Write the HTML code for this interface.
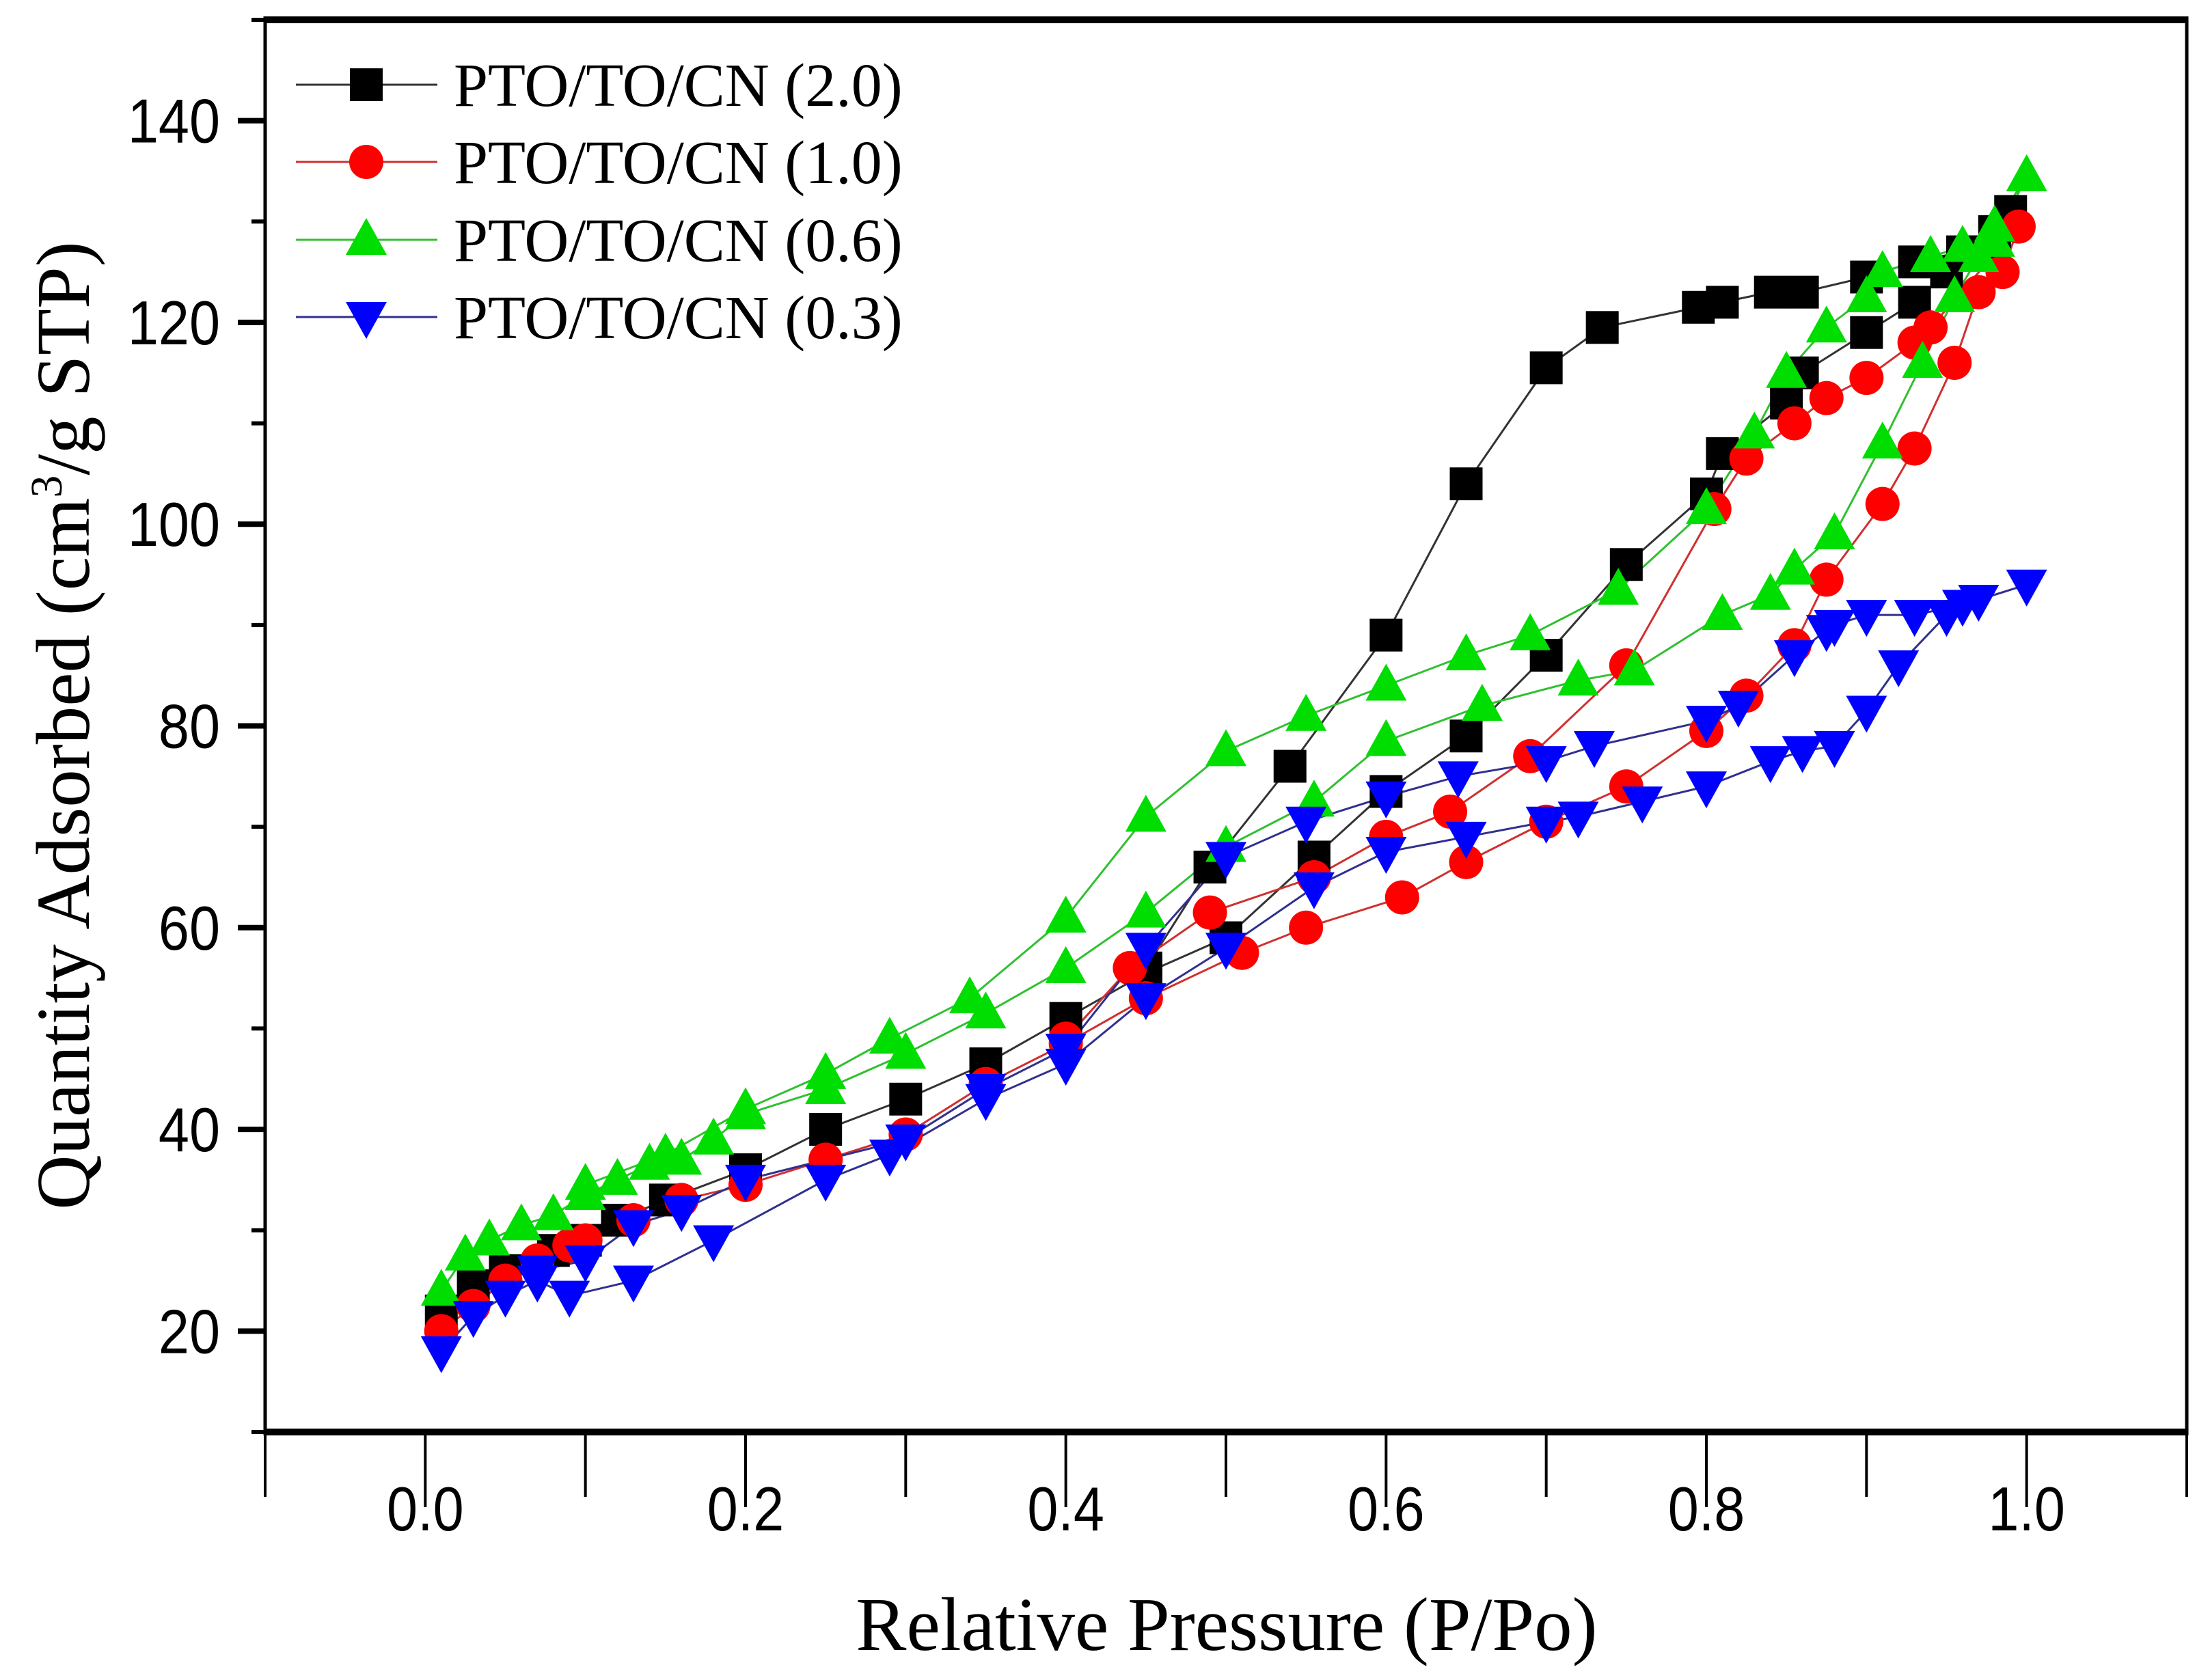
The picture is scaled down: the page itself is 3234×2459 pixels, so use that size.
<!DOCTYPE html>
<html><head><meta charset="utf-8"><style>
html,body{margin:0;padding:0;background:#fff;}
svg{display:block;}
</style></head><body>
<svg id="chart" width="3234" height="2459" viewBox="0 0 3234 2459" xmlns="http://www.w3.org/2000/svg">
<g id="plot"></g>
</svg>
<script>
const xTicks=[0.0,0.2,0.4,0.6,0.8,1.0];
const xTickLabels=["0.0","0.2","0.4","0.6","0.8","1.0"];
const yTicks=[20,40,60,80,100,120,140];
const yTickLabels=["20","40","60","80","100","120","140"];
const seriesNames=["PTO/TO/CN (2.0)","PTO/TO/CN (1.0)","PTO/TO/CN (0.6)","PTO/TO/CN (0.3)"];
const s20x=[0.01,0.03,0.05,0.08,0.1,0.12,0.15,0.2,0.25,0.3,0.35,0.4,0.45,0.5,0.555,0.6,0.65,0.7,0.75,0.8,0.81,0.85,0.86,0.9,0.93,0.95,0.97,0.99,0.98,0.96,0.93,0.9,0.86,0.84,0.81,0.795,0.735,0.7,0.65,0.6,0.54,0.49,0.45];
const s20y=[22,24.5,26,28,29,31,33,36,40,43,46.5,51,55.5,59,67,73.5,79,87,96,103,107,112,115,119,122,125,127,131,129,127,126,124.5,123,123,122,121.5,119.5,115.5,104,89,76,66,56];
const s10x=[0.01,0.03,0.05,0.07,0.09,0.1,0.13,0.16,0.2,0.25,0.3,0.35,0.4,0.45,0.51,0.55,0.61,0.65,0.7,0.75,0.8,0.825,0.855,0.875,0.91,0.93,0.955,0.97,0.985,0.995,0.94,0.93,0.9,0.875,0.855,0.825,0.805,0.75,0.69,0.64,0.6,0.555,0.49,0.44,0.4];
const s10y=[20,22.5,25,27,28.5,29,31,33,34.5,37,39.5,44.5,48.5,53,57.5,60,63,66.5,70.5,74,79.5,83,88,94.5,102,107.5,116,123,125,129.5,119.5,118,114.5,112.5,110,106.5,101.5,86,77,71.5,69,65,61.5,56,49];
const s06x=[0.01,0.025,0.04,0.06,0.08,0.1,0.12,0.14,0.16,0.18,0.2,0.25,0.3,0.35,0.4,0.45,0.5,0.555,0.6,0.66,0.72,0.755,0.81,0.84,0.855,0.88,0.91,0.935,0.955,0.97,0.98,1.0,0.98,0.96,0.94,0.91,0.9,0.875,0.85,0.83,0.8,0.745,0.69,0.65,0.6,0.55,0.5,0.45,0.4,0.34,0.29,0.25,0.2,0.15,0.1];
const s06y=[24,27.5,29,30.5,31.5,33.5,35,36.5,37,39,41.5,44,47.5,51.5,56,61.5,68,72.5,78.5,82,84.5,85.5,91,93,95.5,99,108,116,122.5,126.5,128,134.5,129.5,127.5,126.5,125,122.5,119.5,115,109,101.5,93.5,89,87,84,81,77.5,71,61,53,49,45.5,42,37.5,34.5];
const s03x=[0.01,0.03,0.05,0.07,0.09,0.13,0.18,0.25,0.29,0.35,0.4,0.45,0.5,0.555,0.6,0.65,0.7,0.72,0.76,0.8,0.84,0.86,0.88,0.9,0.92,0.95,0.97,1.0,0.96,0.93,0.9,0.88,0.875,0.855,0.82,0.8,0.73,0.7,0.645,0.6,0.55,0.5,0.45,0.4,0.35,0.3,0.2,0.16,0.13,0.1,0.07];
const s03y=[18,21.5,23.5,25,23.5,25,29,35,37.5,43,46.5,53,58,64,67.5,69,70.5,71,72.5,74,76.5,77.5,78,81.5,86,91,92.5,94,92,91,91,90,89.5,87,82,80.5,78,76.5,75,73,70.5,67,58,48,44,39,35,32,30.5,27,26];

const L=388,R=3200,T=29,B=2096;
const X0=-0.1,X1=1.1,Y0=10,Y1=150;
const sx=v=>L+(v-X0)/(X1-X0)*(R-L);
const sy=v=>B-(v-Y0)/(Y1-Y0)*(B-T);
const NS="http://www.w3.org/2000/svg";
const svg=document.getElementById('chart');
function mk(tag,attrs,parent){const e=document.createElementNS(NS,tag);for(const k in attrs)e.setAttribute(k,attrs[k]);(parent||svg).appendChild(e);return e;}

let e;
e=mk('line',{x1:L,y1:T,x2:R,y2:T,stroke:'#000','stroke-width':10});


e=mk('line',{x1:L,y1:B,x2:R,y2:B,stroke:'#000','stroke-width':10});


e=mk('line',{x1:L,y1:T-5,x2:L,y2:B+5,stroke:'#000','stroke-width':5});


e=mk('line',{x1:R,y1:T-5,x2:R,y2:B+5,stroke:'#000','stroke-width':5});



for(let i=-1;i<=11;i++){const v=i/10;const major=(i%2===0);
 e=mk('line',{x1:sx(v),y1:B,x2:sx(v),y2:B+(major?110:95),stroke:'#000','stroke-width':4});
 
 }
xTicks.forEach((v,i)=>{e=mk('text',{x:0,y:0,transform:`translate(${sx(v)},2240) scale(1,1.12)`,'font-family':'Liberation Sans, sans-serif','font-size':81,'text-anchor':'middle'});e.textContent=xTickLabels[i];
 
 });
for(let v=10;v<=150;v+=10){const major=(v%20===0);
 e=mk('line',{x1:L-(major?40:20),y1:sy(v),x2:L,y2:sy(v),stroke:'#000','stroke-width':major?8:6});
 
 }
yTicks.forEach((v,i)=>{e=mk('text',{x:0,y:0,transform:`translate(322,${sy(v)+32}) scale(1,1.12)`,'font-family':'Liberation Sans, sans-serif','font-size':81,'text-anchor':'end'});e.textContent=yTickLabels[i];
 
 });

e=mk('text',{x:1795,y:2415,'font-family':'Liberation Serif, serif','font-size':111,'text-anchor':'middle'});
e.textContent='Relative Pressure (P/Po)';


e=mk('text',{x:0,y:0,'font-family':'Liberation Serif, serif','font-size':111,'text-anchor':'middle',transform:'translate(130,1062) rotate(-90)'});
e.innerHTML='Quantity Adsorbed (cm<tspan dy="-40" font-size="66">3</tspan><tspan dy="40">/g STP)</tspan>';



const colors=['#000000','#ff0000','#00dd00','#0000ff'];
const lineColors=['#333333','#d03030','#30c030','#303090'];
const shapes=['square','circle','up','down'];
function marker(shape,x,y,c,parent){
 let m;
 if(shape==='square')m=mk('rect',{x:x-24,y:y-24,width:48,height:48,fill:c},parent);
 else if(shape==='circle')m=mk('circle',{cx:x,cy:y,r:25,fill:c},parent);
 else if(shape==='up')m=mk('polygon',{points:`${x-30},${y+22} ${x+30},${y+22} ${x},${y-32}`,fill:c},parent);
 else m=mk('polygon',{points:`${x-30},${y-22} ${x+30},${y-22} ${x},${y+32}`,fill:c},parent);
 return m;}
const allX=[s20x,s10x,s06x,s03x],allY=[s20y,s10y,s06y,s03y];
const plot=document.getElementById('plot');
[0,1,2,3].forEach(k=>{
 const pts=allX[k].map((v,i)=>sx(v)+','+sy(allY[k][i])).join(' ');
 e=mk('polyline',{points:pts,fill:'none',stroke:lineColors[k],'stroke-width':3},plot);
 
 
});
[0,1,2,3].forEach(k=>{
 const g=mk('g',{},plot);
 
 
 allX[k].forEach((v,i)=>{const m=marker(shapes[k],sx(v),sy(allY[k][i]),colors[k],g);
  
  });
});
const legY=[124,237,351,464];
const lg=mk('g',{});


seriesNames.forEach((n,k)=>{
 const g=mk('g',{},lg);
 
 
 mk('line',{x1:433,y1:legY[k],x2:640,y2:legY[k],stroke:lineColors[k],'stroke-width':3},g);
 marker(shapes[k],536,legY[k],colors[k],g);
 const t=mk('text',{x:664,y:legY[k]+31,'font-family':'Liberation Serif, serif','font-size':90},g);
 t.textContent=n;
});
</script>
</body></html>
